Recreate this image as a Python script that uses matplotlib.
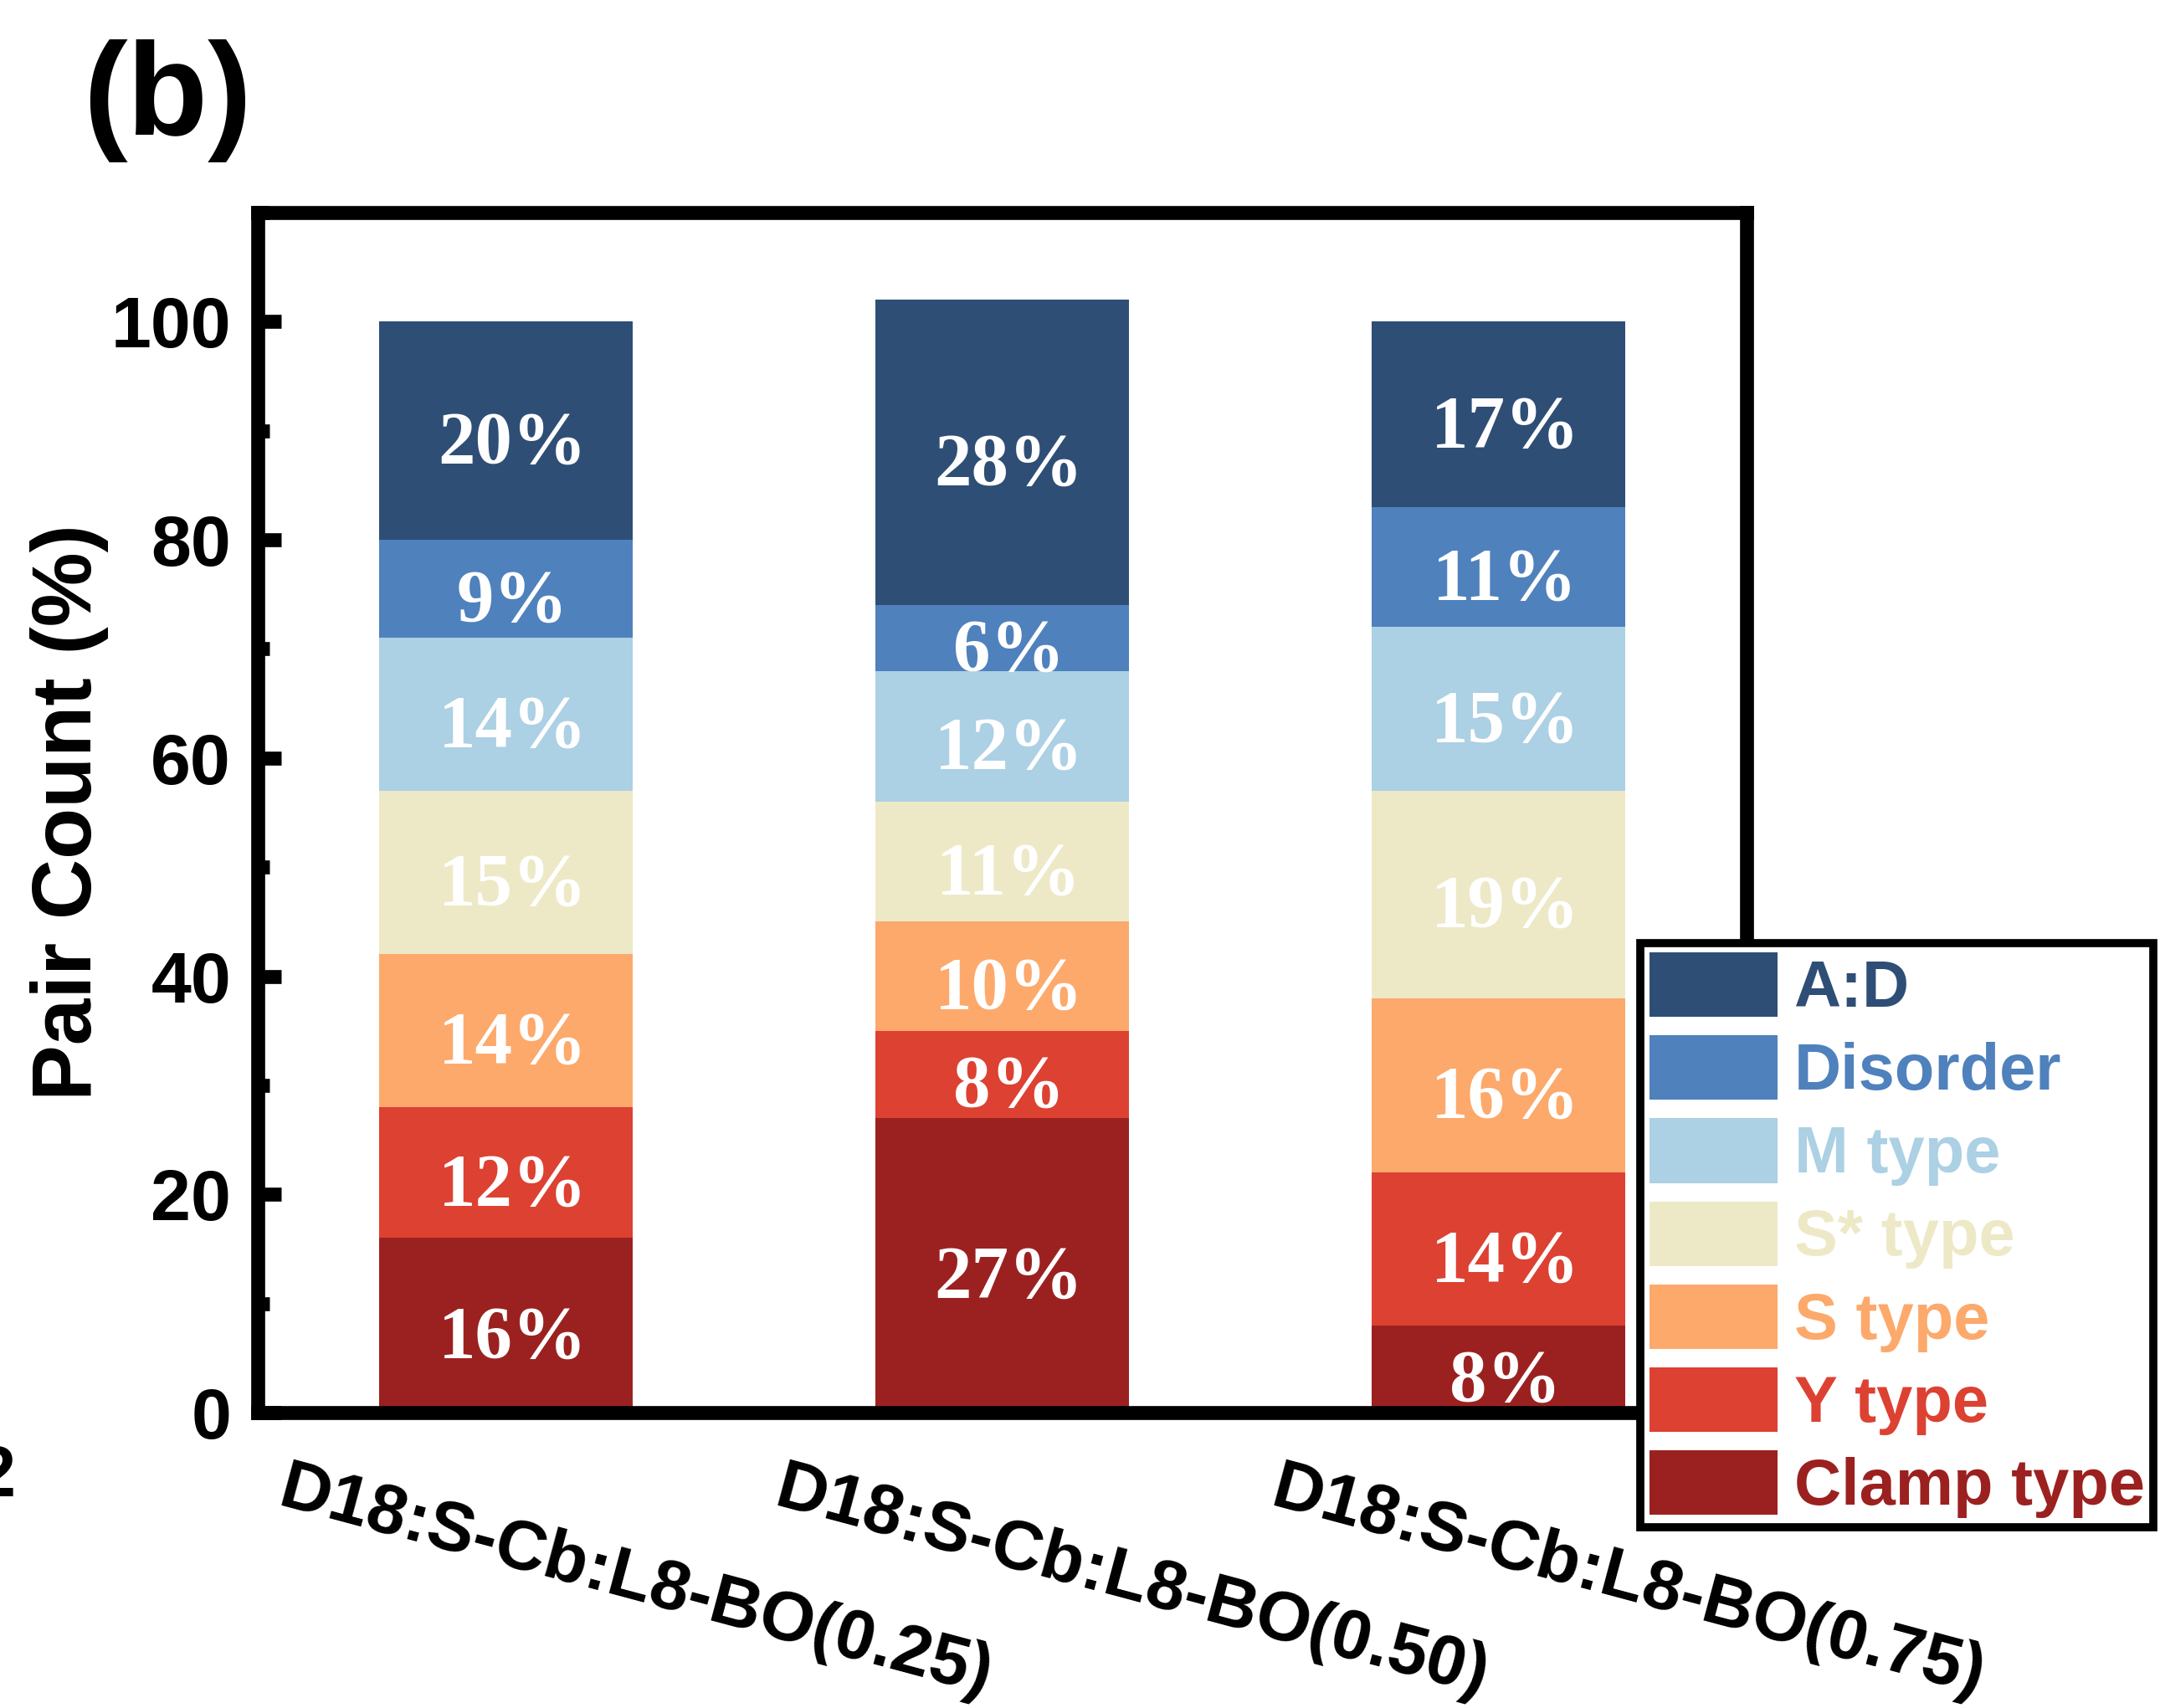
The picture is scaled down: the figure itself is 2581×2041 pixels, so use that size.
import matplotlib
matplotlib.use( 'Agg' )
import matplotlib.pyplot as plt
import matplotlib.transforms as mtransforms
from matplotlib.ticker import MultipleLocator
import numpy as np

plt.rcParams[ 'font.family' ] = 'Liberation Sans'

samples = [ 'D18:S-Cb:L8-BO(0.25)', 'D18:S-Cb:L8-BO(0.50)', 'D18:S-Cb:L8-BO(0.75)' ]

# pair types, stacked from the bottom of each bar upwards
pair_types = [ 'Clamp type', 'Y type', 'S type', 'S* type', 'M type', 'Disorder', 'A:D' ]

clamp_type = [ 16, 27, 8 ]
y_type = [ 12, 8, 14 ]
s_type = [ 14, 10, 16 ]
s_star_type = [ 15, 11, 19 ]
m_type = [ 14, 12, 15 ]
disorder = [ 9, 6, 11 ]
a_d = [ 20, 28, 17 ]

colors = [ '#9B2120', '#DD4132', '#FCA96B', '#EDE9C7', '#ACD0E4', '#4F81BD', '#2E4E76' ]

y_ticks = [ 0, 20, 40, 60, 80, 100 ]

W, H = 2581, 2041


def plot_pairs():

    series = [ clamp_type, y_type, s_type, s_star_type, m_type, disorder, a_d ]

    fig = plt.figure( figsize=( W / 100, H / 100 ), dpi=100 )
    ax = fig.add_axes( [ 308 / W, 1 - 1688 / H, ( 2087 - 308 ) / W, ( 1688 - 254 ) / H ] )

    # percentage labels sit a little right of and below the segment centre
    nudge = mtransforms.ScaledTranslation( 0.08, -0.07, fig.dpi_scale_trans )

    x = np.arange( len( samples ) )
    bottom = np.zeros( len( samples ) )
    handles = []
    for name, values, color in zip( pair_types, series, colors ):
        values = np.array( values, dtype=float )
        bars = ax.bar( x, values, width=0.51, bottom=bottom, color=color, linewidth=0, label=name )
        handles.append( bars )
        for xi, b, v in zip( x, bottom, values ):
            ax.text( xi, b + v / 2, f'{v:.0f}%', ha='center', va='center_baseline', color='white',
                     fontsize=64, fontweight='bold', family='Liberation Serif',
                     transform=ax.transData + nudge )
        bottom += values

    ax.set_xlim( -0.5, 2.5 )
    ax.set_ylim( 0, 110 )

    for side in [ 'left', 'right', 'top', 'bottom' ]:
        ax.spines[ side ].set_linewidth( 12 )

    ax.set_yticks( y_ticks )
    ax.yaxis.set_minor_locator( MultipleLocator( 10 ) )
    ax.tick_params( axis='y', which='major', direction='in', length=20, width=12, pad=23, labelsize=62 )
    ax.tick_params( axis='y', which='minor', direction='in', length=10, width=12 )
    for label in ax.get_yticklabels():
        label.set_fontweight( 'bold' )

    ax.set_xticks( x )
    ax.set_xticklabels( samples, rotation=-15, rotation_mode='anchor', ha='left', va='top',
                        fontsize=60.5, fontweight='bold' )
    ax.tick_params( axis='x', length=0, pad=37 )
    shift = mtransforms.ScaledTranslation( -2.59, 0, fig.dpi_scale_trans )
    for label in ax.get_xticklabels():
        label.set_transform( label.get_transform() + shift )

    ax.set_ylabel( 'Pair Count (%)', fontsize=72, fontweight='bold' )
    ax.yaxis.set_label_coords( -0.100, 0.5 )

    leg = ax.legend( handles[ ::-1 ], pair_types[ ::-1 ], loc='upper left',
                     bbox_to_anchor=( 1960 / W, 1 - 1127 / H ), bbox_transform=fig.transFigure,
                     prop={ 'family': 'Liberation Sans', 'weight': 'bold', 'size': 56 },
                     handlelength=1.97, handleheight=1.15, handletextpad=0.25, labelspacing=0.235,
                     borderpad=0.14, borderaxespad=0, fancybox=False, framealpha=1, edgecolor='black' )
    leg.get_frame().set_linewidth( 7 )
    for text, color in zip( leg.get_texts(), colors[ ::-1 ] ):
        text.set_color( color )

    fig.text( 99 / W, 1 - 161 / H, '(b)', fontsize=114, fontweight='bold', ha='left', va='baseline' )
    fig.text( 18 / W, 1 - 1788 / H, '2', fontsize=61, fontweight='bold', ha='right', va='baseline' )

    fig.savefig( 'out.png', dpi=100 )


if __name__ == "__main__":

    plot_pairs()
